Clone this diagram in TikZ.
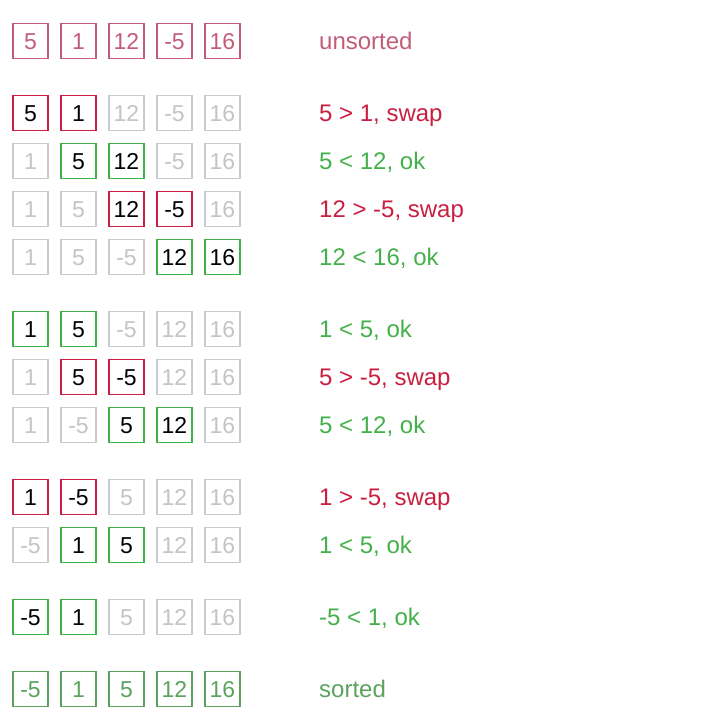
\documentclass[tikz,border=0pt]{standalone}
\usepackage{fontspec}
\setmainfont{Liberation Sans}
\definecolor{cpink}{HTML}{C25C78}
\definecolor{cred}{HTML}{C91F40}
\definecolor{cgreen}{HTML}{44B049}
\definecolor{csorted}{HTML}{5CA25E}
\definecolor{cgray}{HTML}{CACACA}
\definecolor{cgraytext}{HTML}{C4C4C4}
\tikzset{
  cell/.style={draw, line width=1.8pt, minimum size=35pt, inner sep=0pt,
    text height=16.5pt, text depth=0pt, font=\fontsize{23}{27}\selectfont},
  gcell/.style={cell, draw=cgray, text=cgraytext},
  rcell/.style={cell, draw=cred, text=black},
  kcell/.style={cell, draw=cgreen, text=black},
  pcell/.style={cell, draw=cpink, text=cpink},
  scell/.style={cell, draw=csorted, text=csorted},
  lab/.style={anchor=base west, inner sep=0pt, font=\fontsize{24}{28}\selectfont},
}
\begin{document}
\begin{tikzpicture}[x=1pt,y=-1pt]
\useasboundingbox (0,0) rectangle (726,721);
% row 1
\node[pcell] (r1a) at (30.5,41) {5};
\node[pcell] (r1b) at (78.5,41) {1};
\node[pcell] (r1c) at (126.5,41) {12};
\node[pcell] (r1d) at (174.5,41) {-5};
\node[pcell] (r1e) at (222.5,41) {16};
\node[lab, text=cpink] (l1) at (319,49.5) {unsorted};
% row 2
\node[rcell] (r2a) at (30.5,113) {5};
\node[rcell] (r2b) at (78.5,113) {1};
\node[gcell] (r2c) at (126.5,113) {12};
\node[gcell] (r2d) at (174.5,113) {-5};
\node[gcell] (r2e) at (222.5,113) {16};
\node[lab, text=cred] (l2) at (319,121.5) {5 > 1, swap};
% row 3
\node[gcell] (r3a) at (30.5,161) {1};
\node[kcell] (r3b) at (78.5,161) {5};
\node[kcell] (r3c) at (126.5,161) {12};
\node[gcell] (r3d) at (174.5,161) {-5};
\node[gcell] (r3e) at (222.5,161) {16};
\node[lab, text=cgreen] (l3) at (319,169.5) {5 < 12, ok};
% row 4
\node[gcell] (r4a) at (30.5,209) {1};
\node[gcell] (r4b) at (78.5,209) {5};
\node[rcell] (r4c) at (126.5,209) {12};
\node[rcell] (r4d) at (174.5,209) {-5};
\node[gcell] (r4e) at (222.5,209) {16};
\node[lab, text=cred] (l4) at (319,217.5) {12 > -5, swap};
% row 5
\node[gcell] (r5a) at (30.5,257) {1};
\node[gcell] (r5b) at (78.5,257) {5};
\node[gcell] (r5c) at (126.5,257) {-5};
\node[kcell] (r5d) at (174.5,257) {12};
\node[kcell] (r5e) at (222.5,257) {16};
\node[lab, text=cgreen] (l5) at (319,265.5) {12 < 16, ok};
% row 6
\node[kcell] (r6a) at (30.5,329) {1};
\node[kcell] (r6b) at (78.5,329) {5};
\node[gcell] (r6c) at (126.5,329) {-5};
\node[gcell] (r6d) at (174.5,329) {12};
\node[gcell] (r6e) at (222.5,329) {16};
\node[lab, text=cgreen] (l6) at (319,337.5) {1 < 5, ok};
% row 7
\node[gcell] (r7a) at (30.5,377) {1};
\node[rcell] (r7b) at (78.5,377) {5};
\node[rcell] (r7c) at (126.5,377) {-5};
\node[gcell] (r7d) at (174.5,377) {12};
\node[gcell] (r7e) at (222.5,377) {16};
\node[lab, text=cred] (l7) at (319,385.5) {5 > -5, swap};
% row 8
\node[gcell] (r8a) at (30.5,425) {1};
\node[gcell] (r8b) at (78.5,425) {-5};
\node[kcell] (r8c) at (126.5,425) {5};
\node[kcell] (r8d) at (174.5,425) {12};
\node[gcell] (r8e) at (222.5,425) {16};
\node[lab, text=cgreen] (l8) at (319,433.5) {5 < 12, ok};
% row 9
\node[rcell] (r9a) at (30.5,497) {1};
\node[rcell] (r9b) at (78.5,497) {-5};
\node[gcell] (r9c) at (126.5,497) {5};
\node[gcell] (r9d) at (174.5,497) {12};
\node[gcell] (r9e) at (222.5,497) {16};
\node[lab, text=cred] (l9) at (319,505.5) {1 > -5, swap};
% row 10
\node[gcell] (r10a) at (30.5,545) {-5};
\node[kcell] (r10b) at (78.5,545) {1};
\node[kcell] (r10c) at (126.5,545) {5};
\node[gcell] (r10d) at (174.5,545) {12};
\node[gcell] (r10e) at (222.5,545) {16};
\node[lab, text=cgreen] (l10) at (319,553.5) {1 < 5, ok};
% row 11
\node[kcell] (r11a) at (30.5,617) {-5};
\node[kcell] (r11b) at (78.5,617) {1};
\node[gcell] (r11c) at (126.5,617) {5};
\node[gcell] (r11d) at (174.5,617) {12};
\node[gcell] (r11e) at (222.5,617) {16};
\node[lab, text=cgreen] (l11) at (319,625.5) {-5 < 1, ok};
% row 12
\node[scell] (r12a) at (30.5,689) {-5};
\node[scell] (r12b) at (78.5,689) {1};
\node[scell] (r12c) at (126.5,689) {5};
\node[scell] (r12d) at (174.5,689) {12};
\node[scell] (r12e) at (222.5,689) {16};
\node[lab, text=csorted] (l12) at (319,697.5) {sorted};
\end{tikzpicture}
\end{document}
